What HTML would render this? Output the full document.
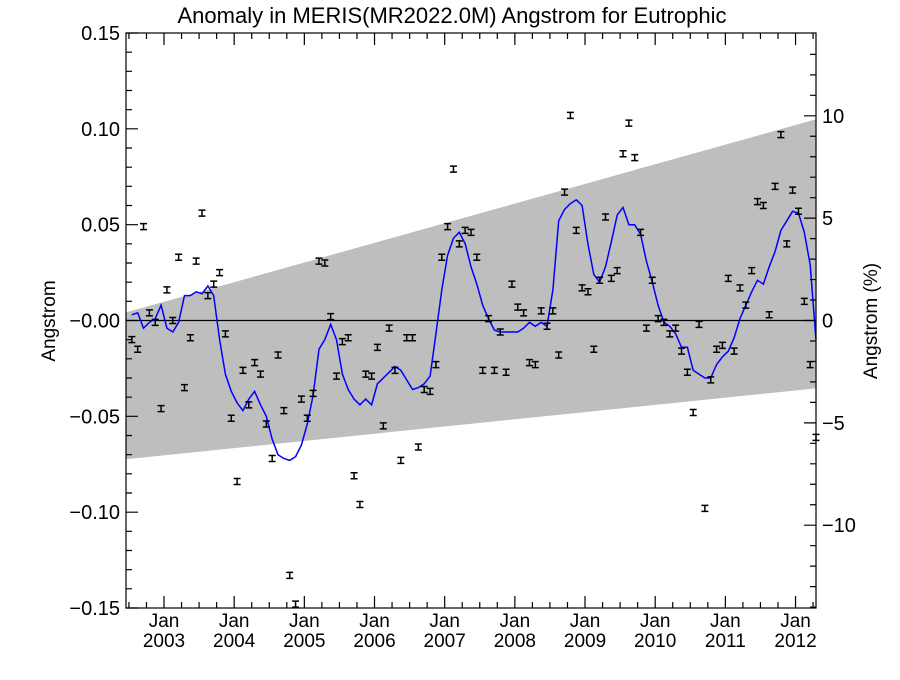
<!DOCTYPE html>
<html><head><meta charset="utf-8"><style>
body{margin:0;background:#fff;}
svg text{font-family:"Liberation Sans",Arial,sans-serif;fill:#000;}
</style></head><body>
<svg id="chart" width="900" height="675" viewBox="0 0 900 675" xmlns="http://www.w3.org/2000/svg">
<text x="452" y="23" font-size="22" text-anchor="middle">Anomaly in MERIS(MR2022.0M) Angstrom for Eutrophic</text>
<text transform="translate(55,321) rotate(-90)" font-size="19" text-anchor="middle">Angstrom</text>
<text transform="translate(877,321) rotate(-90)" font-size="19" text-anchor="middle">Angstrom (%)</text>
<g id="band"></g>
<g id="zero"></g>
<g id="smooth"></g>
<g id="points"></g>
<g id="axes"></g>
</svg>
<script>
const startYear = 2002, startMonth = 6; // Jul 2002 (0-based month)
const anomalies = [-0.010,-0.015,0.049,0.004,-0.001,-0.046,0.016,0.000,0.033,-0.035,
-0.009,0.031,0.056,0.013,0.019,0.025,-0.007,-0.051,-0.084,-0.026,
-0.044,-0.022,-0.028,-0.054,-0.072,-0.018,-0.047,-0.133,-0.148,-0.041,
-0.051,-0.038,0.031,0.030,0.002,-0.029,-0.011,-0.009,-0.081,-0.096,
-0.028,-0.029,-0.014,-0.055,-0.004,-0.026,-0.073,-0.009,-0.009,-0.066,
-0.036,-0.037,-0.023,0.033,0.049,0.079,0.040,0.047,0.046,0.033,
-0.026,0.001,-0.026,-0.006,-0.027,0.019,0.007,0.004,-0.022,-0.023,
0.005,-0.003,0.005,-0.018,0.067,0.107,0.047,0.017,0.015,-0.015,
0.021,0.054,0.022,0.026,0.087,0.103,0.085,0.046,-0.004,0.021,
0.001,-0.001,-0.007,-0.004,-0.016,-0.027,-0.048,-0.002,-0.098,-0.031,
-0.015,-0.013,0.022,-0.016,0.017,0.008,0.026,0.062,0.060,0.003,
0.070,0.097,0.040,0.068,0.057,0.010,-0.023,-0.061];
const smoothed = [0.003,0.004,-0.004,-0.001,0.001,0.008,-0.004,-0.006,-0.001,0.013,
0.013,0.015,0.014,0.018,0.013,-0.010,-0.028,-0.037,-0.043,-0.047,
-0.041,-0.037,-0.044,-0.050,-0.062,-0.070,-0.072,-0.073,-0.071,-0.065,
-0.054,-0.039,-0.015,-0.010,-0.002,-0.010,-0.028,-0.036,-0.041,-0.044,
-0.041,-0.044,-0.033,-0.030,-0.027,-0.024,-0.026,-0.031,-0.036,-0.035,
-0.033,-0.029,-0.007,0.016,0.034,0.043,0.046,0.040,0.028,0.019,
0.008,0.001,-0.005,-0.006,-0.006,-0.006,-0.006,-0.004,-0.001,-0.003,
-0.001,-0.003,0.016,0.052,0.058,0.061,0.063,0.060,0.040,0.024,
0.020,0.028,0.041,0.055,0.059,0.050,0.050,0.045,0.031,0.020,
0.008,-0.001,-0.003,-0.007,-0.014,-0.014,-0.026,-0.028,-0.030,-0.030,
-0.023,-0.019,-0.016,-0.009,0.001,0.008,0.015,0.021,0.019,0.028,
0.036,0.047,0.052,0.057,0.056,0.046,0.029,-0.010];
const bandUpper = [0.0042, 0.105];
const bandLower = [-0.0724, -0.0354];
const yTicks = ["0.15","0.10","0.05","-0.00","-0.05","-0.10","-0.15"];
const y2Ticks = [10,5,0,-5,-10];
const xYears = [2003,2004,2005,2006,2007,2008,2009,2010,2011,2012];
const meanValue = 1.068;

const L=126,R=816,T=33,B=608;
const t0=2002+5.5/12, t1=2012+3.5/12;
function X(t){return L+(t-t0)/(t1-t0)*(R-L);}
function Y(v){return T+(0.15-v)/0.30*(B-T);}
function tOf(i){return startYear+(startMonth+i+0.5)/12;}
const NS="http://www.w3.org/2000/svg";
function mk(tag,attrs,parent){const e=document.createElementNS(NS,tag);for(const k in attrs)e.setAttribute(k,attrs[k]);parent.appendChild(e);return e;}

const band=document.getElementById('band');
const poly=mk('polygon',{points:`${L},${Y(bandUpper[0])} ${R},${Y(bandUpper[1])} ${R},${Y(bandLower[1])} ${L},${Y(bandLower[0])}`,fill:'#bebebe'},band);



const z=mk('line',{x1:L,x2:R,y1:Y(0),y2:Y(0),stroke:'#000','stroke-width':1.3},document.getElementById('zero'));



const sm=document.getElementById('smooth');
let d='';smoothed.forEach((v,i)=>{let x=Math.min(R,Math.max(L,X(tOf(i))));d+=(i?'L':'M')+x.toFixed(1)+','+Y(v).toFixed(1);});
const pl=mk('path',{d:d,fill:'none',stroke:'#0000ff','stroke-width':1.5},sm);



const pts=document.getElementById('points');
anomalies.forEach((v,i)=>{
  const x=X(tOf(i)),y=Y(v);
  if(x<L-1||x>R+1)return;
  const g=mk('path',{d:`M${x-3.5},${y-3}H${x+3.5}M${x-3.5},${y+3}H${x+3.5}M${x},${y-3}V${y+3}`,stroke:'#000','stroke-width':1.5,fill:'none'},pts);
  
  
});

const ax=document.getElementById('axes');
const fr=mk('rect',{x:L,y:T,width:R-L,height:B-T,fill:'none',stroke:'#000','stroke-width':1.2},ax);


let td='';
for(let k=-15;k<=15;k++){const y=Y(k/100);const len=(k%5===0)?12:6;td+=`M${L},${y}H${L+len}`;}
yTicks.forEach((s,i)=>{const v=0.15-i*0.05;
  const t=mk('text',{x:L-6,y:Y(v)+7,'font-size':20,'text-anchor':'end'},ax);t.textContent=s.replace('-','\u2212');
  
  });
for(let p=-14;p<=13;p++){const y=Y(p*meanValue/100);if(y<T||y>B)continue;const len=(p%5===0)?12:6;td+=`M${R},${y}H${R-len}`;}
y2Ticks.forEach(p=>{const t=mk('text',{x:R+6,y:Y(p*meanValue/100)+7,'font-size':20},ax);t.textContent=String(p).replace('-','\u2212');
  
  });
for(let m=6;m<=123;m+=3){const t=2002+m/12;const x=X(t);if(x<L||x>R)continue;const len=(m%12===0)?12:6;td+=`M${x},${B}V${B-len}M${x},${T}V${T+len}`;}
xYears.forEach(yr=>{const x=X(yr);
  const a=mk('text',{x:x,y:627,'font-size':19,'text-anchor':'middle'},ax);a.textContent='Jan';
  
  
  const b=mk('text',{x:x,y:647,'font-size':19,'text-anchor':'middle'},ax);b.textContent=String(yr);
  
  });
const tk=mk('path',{d:td,stroke:'#000','stroke-width':1.2,fill:'none'},ax);


</script>
</body></html>
